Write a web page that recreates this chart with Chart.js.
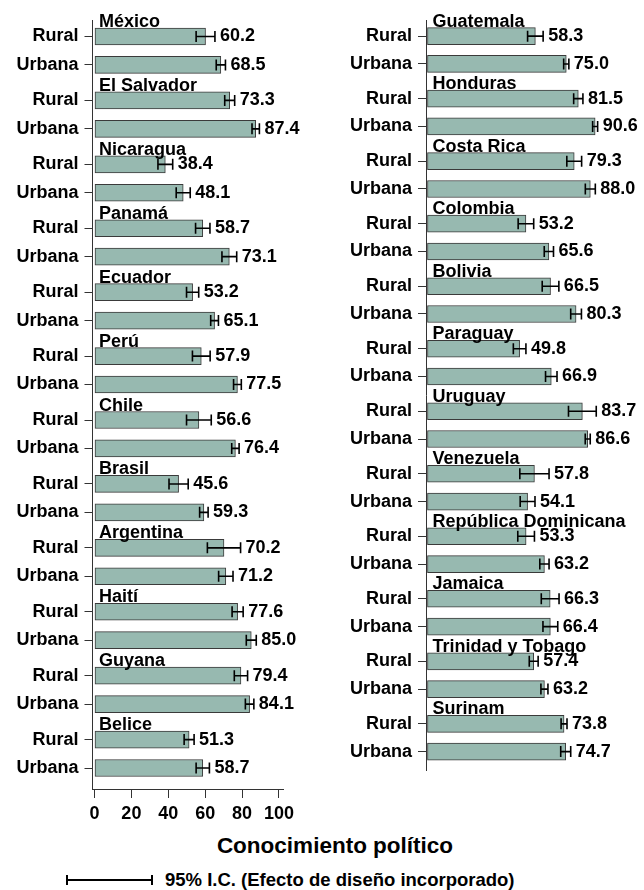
<!DOCTYPE html>
<html><head><meta charset="utf-8">
<script src="https://cdn.jsdelivr.net/npm/chart.js@4.4.1/dist/chart.umd.min.js"></script>
<style>
html,body{margin:0;padding:0;background:#fff;}
body{width:644px;height:890px;position:relative;overflow:hidden;font-family:'Liberation Sans',Arial,sans-serif;color:#000;}
#c1{position:absolute;left:0;top:0;}
#c2{position:absolute;left:320px;top:0;}
#title{position:absolute;left:0;width:670px;text-align:center;top:833px;font-weight:bold;font-size:22.5px;line-height:26px;}
#legline{position:absolute;left:66px;top:875px;width:83px;height:10px;border-left:2px solid #000;border-right:2px solid #000;}
#legline:before{content:"";position:absolute;left:0;right:0;top:4px;height:2px;background:#000;}
#legtext{position:absolute;left:165px;top:869px;font-weight:bold;font-size:18.5px;line-height:22px;white-space:nowrap;}
</style>
</head><body>
<canvas id="c1" width="320" height="830"></canvas>
<canvas id="c2" width="324" height="787"></canvas>
<div id="title">Conocimiento político</div>
<div id="legline"></div>
<div id="legtext">95% I.C. (Efecto de diseño incorporado)</div>
<script>
// ---- data ----
const countriesLeft = ['México','El Salvador','Nicaragua','Panamá','Ecuador','Perú','Chile','Brasil','Argentina','Haití','Guyana','Belice'];
const ruralLeft   = [60.2,73.3,38.4,58.7,53.2,57.9,56.6,45.6,70.2,77.6,79.4,51.3];
const urbanaLeft  = [68.5,87.4,48.1,73.1,65.1,77.5,76.4,59.3,71.2,85.0,84.1,58.7];
const ruralLeftCI = [5.1,2.7,4.0,3.9,3.3,4.8,6.7,5.2,9.0,3.0,3.6,2.7];
const urbanaLeftCI= [2.5,2.0,3.8,4.0,2.1,2.1,2.0,2.3,3.9,2.7,2.3,3.6];

const countriesRight = ['Guatemala','Honduras','Costa Rica','Colombia','Bolivia','Paraguay','Uruguay','Venezuela','República Dominicana','Jamaica','Trinidad y Tobago','Surinam'];
const ruralRight   = [58.3,81.5,79.3,53.2,66.5,49.8,83.7,57.8,53.3,66.3,57.4,73.8];
const urbanaRight  = [75.0,90.6,88.0,65.6,80.3,66.9,86.6,54.1,63.2,66.4,63.2,74.7];
const ruralRightCI = [4.2,2.5,4.0,4.2,4.5,3.4,7.5,7.9,4.5,4.8,2.4,1.6];
const urbanaRightCI= [1.4,1.35,2.7,2.5,2.9,3.1,1.35,4.0,2.5,4.0,1.9,2.7];

const seriesLabels = ['Rural','Urbana'];
const xTicks = [0,20,40,60,80,100];
const xTitle = 'Conocimiento político';

// ---- layout helpers ----
const GAP = 2.25;
const FONT = '"Liberation Sans", Arial, sans-serif';
const BAR_FILL = '#97b9b0';
const BAR_EDGE = '#3a3a3a';
const AXIS = '#333';

const overlay = {
  id: 'overlay',
  afterDatasetsDraw(chart) {
    const ctx = chart.ctx, xs = chart.scales.x;
    const cfg = chart.options.plugins.overlay;
    ctx.save();
    chart.data.datasets.forEach((ds, di) => {
      const meta = chart.getDatasetMeta(di);
      meta.data.forEach((el, i) => {
        const v = ds.data[i].x, m = ds.ci[i];
        const lo = xs.getPixelForValue(v - m), hi = xs.getPixelForValue(v + m), y = el.y;
        ctx.strokeStyle = '#000'; ctx.lineWidth = 1.6;
        ctx.beginPath();
        ctx.moveTo(lo, y); ctx.lineTo(hi, y);
        ctx.moveTo(lo, y - 5.5); ctx.lineTo(lo, y + 5.5);
        ctx.moveTo(hi, y - 5.5); ctx.lineTo(hi, y + 5.5);
        ctx.stroke();
        ctx.fillStyle = '#000';
        ctx.font = 'bold 18px ' + FONT;
        ctx.textAlign = 'left'; ctx.textBaseline = 'middle';
        ctx.fillText(v.toFixed(1), Math.max(el.x, hi) + 5, y);
      });
    });
    const rMeta = chart.getDatasetMeta(0);
    ctx.font = 'bold 18px ' + FONT;
    ctx.textAlign = 'left'; ctx.textBaseline = 'alphabetic';
    rMeta.data.forEach((el, i) => {
      ctx.fillText(cfg.countries[i], chart.chartArea.left + 6.5, el.y - 9.5);
    });
    ctx.restore();
  }
};

function makeChart(id, countries, rural, urbana, rCI, uCI, o) {
  const rPos = countries.map((c, g) => g * GAP);
  const uPos = countries.map((c, g) => g * GAP + 1);
  const yTicks = [];
  rPos.forEach((p, i) => { yTicks.push(p); yTicks.push(uPos[i]); });
  const common = {backgroundColor: BAR_FILL, borderColor: BAR_EDGE, borderWidth: 1, barThickness: 17, grouped: false, borderSkipped: false};
  const xScale = {
    type: 'linear', display: o.showX, min: o.xMin, max: 102.2, offset: false,
    afterBuildTicks: s => { s.ticks = xTicks.map(v => ({value: v})); },
    ticks: {padding: 5, color: '#000', font: {family: FONT, size: 18, weight: 'bold'}},
    grid: {display: true, drawOnChartArea: false, drawTicks: true, tickLength: 9, color: AXIS, lineWidth: 1},
    border: {display: true, color: AXIS, width: 1}
  };
  if (o.showX) xScale.afterFit = s => { s.height = 41; };
  return new Chart(document.getElementById(id), {
    type: 'bar',
    data: {
      datasets: [
        Object.assign({label: seriesLabels[0], data: rural.map((v, i) => ({x: v, y: rPos[i]})), ci: rCI}, common),
        Object.assign({label: seriesLabels[1], data: urbana.map((v, i) => ({x: v, y: uPos[i]})), ci: uCI}, common)
      ]
    },
    options: {
      indexAxis: 'y',
      responsive: false,
      animation: false,
      devicePixelRatio: 1,
      layout: {padding: {top: 20, left: 0, right: o.padRight, bottom: 0}},
      plugins: {legend: {display: false}, tooltip: {enabled: false}, overlay: {countries: countries}},
      scales: {
        y: {
          type: 'linear', reverse: true, min: -0.581, max: o.yMax, offset: false, bounds: 'data', grace: 0,
          afterFit: s => { s.width = o.yWidth; },
          afterBuildTicks: s => { s.ticks = yTicks.map(v => ({value: v})); },
          ticks: {
            autoSkip: false, padding: 6, color: '#000',
            font: {family: FONT, size: 18, weight: 'bold'},
            callback: v => (Math.abs(v / GAP - Math.round(v / GAP)) < 0.01 ? seriesLabels[0] : seriesLabels[1])
          },
          grid: {display: true, drawOnChartArea: false, drawTicks: true, tickLength: 8, color: AXIS, lineWidth: 1, offset: false},
          border: {display: true, color: AXIS, width: 1}
        },
        x: xScale
      }
    },
    plugins: [overlay]
  });
}

makeChart('c1', countriesLeft, ruralLeft, urbanaLeft, ruralLeftCI, urbanaLeftCI,
  {padRight: 37, yWidth: 92.5, yMax: 26.489, showX: true, xMin: -1.08});
makeChart('c2', countriesRight, ruralRight, urbanaRight, ruralRightCI, urbanaRightCI,
  {padRight: 27.4, yWidth: 106, yMax: 26.419, showX: false, xMin: -0.8});
</script>
</body></html>
